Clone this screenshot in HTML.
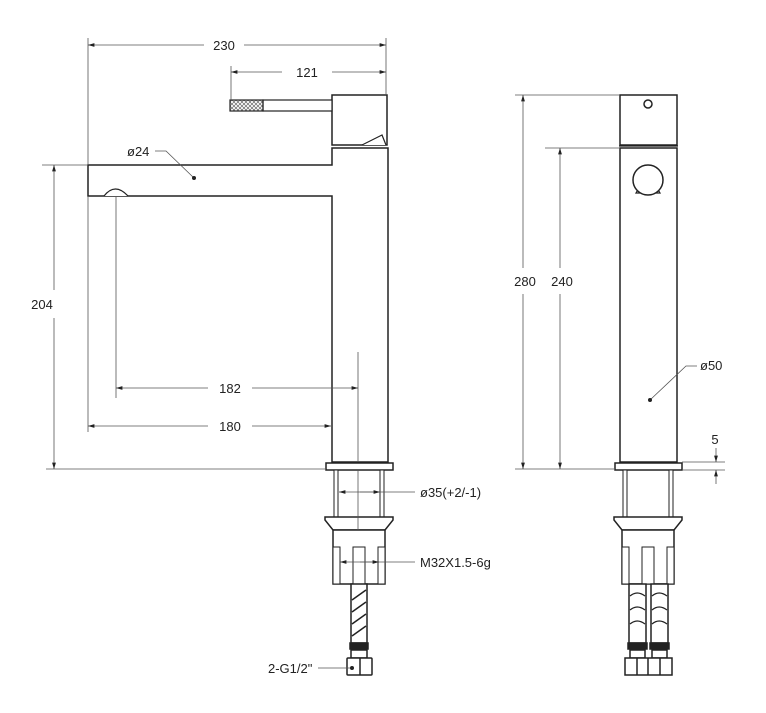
<!DOCTYPE html><html><head><style>body{margin:0;background:#fff}svg{display:block}text{font-family:"Liberation Sans",sans-serif;font-size:13px;fill:#222}</style></head><body>
<svg width="766" height="713" viewBox="0 0 766 713" xmlns="http://www.w3.org/2000/svg">
<defs>
<marker id="a" viewBox="0 0 10 6" refX="10" refY="3" markerWidth="8" markerHeight="5" orient="auto-start-reverse"><path d="M0,0L10,3L0,6z" fill="#222"/></marker>
<pattern id="h" width="4" height="4" patternUnits="userSpaceOnUse"><path d="M0,0L4,4M4,0L0,4" stroke="#666" stroke-width="0.7"/></pattern>
</defs>
<g stroke="#222" stroke-width="1.5" fill="#fff">
<!-- left view -->
<path d="M88,165H332V148H388V462H332V196H88Z"/>
<path d="M104,196Q115,182 128,196" stroke-width="1.2"/>
<rect x="332" y="95" width="55" height="50"/>
<rect x="263" y="100" width="69" height="11" stroke-width="1.2"/>
<rect x="230" y="100" width="33" height="11" fill="url(#h)" stroke-width="1.2"/>
<path d="M362,145L382,135L386,145" stroke-width="1.2"/>
<rect x="326" y="463" width="67" height="7"/>
<rect x="334" y="470" width="4" height="47" stroke-width="1"/><rect x="380" y="470" width="4" height="47" stroke-width="1"/>
<path d="M325,517H393V520L385,530H333L325,520Z"/>
<rect x="333" y="530" width="52" height="54"/>
<rect x="333" y="547" width="7" height="37" stroke-width="1"/><rect x="353" y="547" width="12" height="37" stroke-width="1"/><rect x="378" y="547" width="7" height="37" stroke-width="1"/>
<rect x="351" y="584" width="16" height="59"/>
<path d="M352,600L366,590M352,612L366,602M352,624L366,614M352,636L366,626" stroke-width="1.5"/>
<rect x="350" y="643" width="18" height="6" fill="#222"/>
<rect x="351" y="650" width="16" height="8"/>
<rect x="347" y="658" width="25" height="17" rx="1"/><line x1="360" y1="658" x2="360" y2="675"/>
<!-- right view -->
<rect x="620" y="95" width="57" height="50"/>
<rect x="620" y="148" width="57" height="314"/>
<line x1="619" y1="146" x2="678" y2="146" stroke-width="1.2"/>
<circle cx="648" cy="104" r="4"/>
<path d="M636,193L640,186H656L660,193Z" stroke-width="1.2"/>
<circle cx="648" cy="180" r="15"/>
<rect x="615" y="463" width="67" height="7"/>
<rect x="623" y="470" width="4" height="47" stroke-width="1"/><rect x="669" y="470" width="4" height="47" stroke-width="1"/>
<path d="M614,517H682V520L674,530H622L614,520Z"/>
<rect x="622" y="530" width="52" height="54"/>
<rect x="622" y="547" width="7" height="37" stroke-width="1"/><rect x="642" y="547" width="12" height="37" stroke-width="1"/><rect x="667" y="547" width="7" height="37" stroke-width="1"/>
<rect x="629" y="584" width="17" height="59"/><rect x="651" y="584" width="17" height="59"/>
<path d="M630,596Q637,590 645,596M630,610Q637,604 645,610M630,624Q637,618 645,624M652,596Q659,590 667,596M652,610Q659,604 667,610M652,624Q659,618 667,624" fill="none" stroke-width="1.2"/>
<rect x="628" y="643" width="19" height="6" fill="#222"/><rect x="650" y="643" width="19" height="6" fill="#222"/>
<rect x="630" y="650" width="15" height="8"/><rect x="652" y="650" width="15" height="8"/>
<rect x="625" y="658" width="47" height="17"/>
<line x1="637" y1="658" x2="637" y2="675"/><line x1="648" y1="658" x2="648" y2="675"/><line x1="660" y1="658" x2="660" y2="675"/>
</g>
<g stroke="#555" stroke-width="0.8" fill="none">
<line x1="88" y1="38" x2="88" y2="165"/><line x1="88" y1="196" x2="88" y2="432"/><line x1="386" y1="38" x2="386" y2="95"/>
<line x1="231" y1="66" x2="231" y2="100"/>
<line x1="42" y1="165" x2="88" y2="165"/><line x1="46" y1="469" x2="326" y2="469"/>
<line x1="116" y1="197" x2="116" y2="398"/><line x1="358" y1="352" x2="358" y2="462"/><line x1="358" y1="470" x2="358" y2="530"/>
<line x1="515" y1="95" x2="620" y2="95"/><line x1="515" y1="469" x2="614" y2="469"/><line x1="545" y1="148" x2="620" y2="148"/>
<line x1="682" y1="462" x2="725" y2="462"/><line x1="682" y1="470" x2="725" y2="470"/>
<line x1="88" y1="45" x2="204" y2="45" marker-start="url(#a)"/><line x1="244" y1="45" x2="386" y2="45" marker-end="url(#a)"/>
<line x1="231" y1="72" x2="282" y2="72" marker-start="url(#a)"/><line x1="332" y1="72" x2="386" y2="72" marker-end="url(#a)"/>
<line x1="54" y1="165" x2="54" y2="290" marker-start="url(#a)"/><line x1="54" y1="318" x2="54" y2="469" marker-end="url(#a)"/>
<line x1="116" y1="388" x2="208" y2="388" marker-start="url(#a)"/><line x1="252" y1="388" x2="358" y2="388" marker-end="url(#a)"/>
<line x1="88" y1="426" x2="208" y2="426" marker-start="url(#a)"/><line x1="252" y1="426" x2="331" y2="426" marker-end="url(#a)"/>
<line x1="523" y1="95" x2="523" y2="268" marker-start="url(#a)"/><line x1="523" y1="294" x2="523" y2="469" marker-end="url(#a)"/>
<line x1="560" y1="148" x2="560" y2="268" marker-start="url(#a)"/><line x1="560" y1="294" x2="560" y2="469" marker-end="url(#a)"/>
<line x1="716" y1="448" x2="716" y2="462" marker-end="url(#a)"/><line x1="716" y1="484" x2="716" y2="470" marker-end="url(#a)"/>
<line x1="339" y1="492" x2="415" y2="492" marker-start="url(#a)"/><line x1="360" y1="492" x2="380" y2="492" marker-end="url(#a)"/>
<line x1="340" y1="562" x2="415" y2="562" marker-start="url(#a)"/><line x1="360" y1="562" x2="379" y2="562" marker-end="url(#a)"/>
<line x1="318" y1="668" x2="352" y2="668"/>
<polyline points="155,151 166,151 194,178"/>
<polyline points="697,366 686,366 650,400"/>
</g>
<circle cx="194" cy="178" r="2" fill="#222"/><circle cx="650" cy="400" r="2" fill="#222"/><circle cx="352" cy="668" r="2" fill="#222"/>
<g>
<text x="224" y="50" text-anchor="middle">230</text>
<text x="307" y="77" text-anchor="middle">121</text>
<text x="42" y="309" text-anchor="middle">204</text>
<text x="230" y="393" text-anchor="middle">182</text>
<text x="230" y="431" text-anchor="middle">180</text>
<text x="127" y="156" font-size="12">ø24</text>
<text x="525" y="286" text-anchor="middle">280</text>
<text x="562" y="286" text-anchor="middle">240</text>
<text x="700" y="370" font-size="12">ø50</text>
<text x="715" y="444" text-anchor="middle" font-size="12">5</text>
<text x="420" y="497" font-size="12">ø35(+2/-1)</text>
<text x="420" y="567" font-size="12">M32X1.5-6g</text>
<text x="268" y="673" font-size="12">2-G1/2"</text>
</g>
</svg></body></html>
